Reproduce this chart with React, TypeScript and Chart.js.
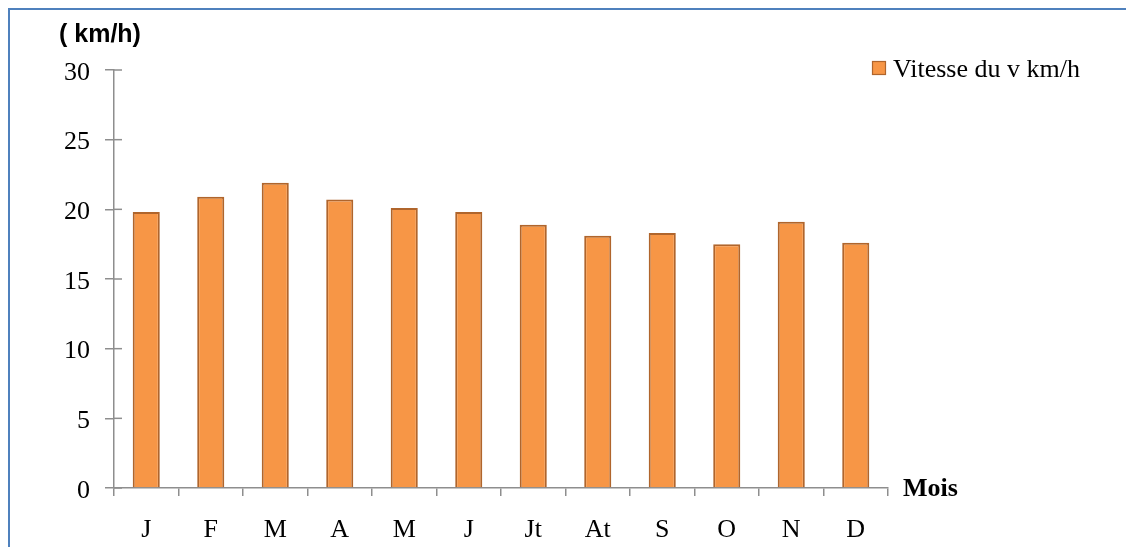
import { useEffect, useRef } from 'react';
import { Chart, registerables } from 'chart.js';

Chart.register(...registerables);

const months = ['J', 'F', 'M', 'A', 'M', 'J', 'Jt', 'At', 'S', 'O', 'N', 'D'];
const windSpeed = [19.8, 20.9, 21.9, 20.7, 20.1, 19.8, 18.9, 18.1, 18.3, 17.5, 19.1, 17.6];
const seriesLabel = 'Vitesse du v km/h';
const yAxisTitle = '( km/h)';
const xAxisTitle = 'Mois';
const yMin = 0;
const yMax = 30;
const yStep = 5;

const SERIF = '"Liberation Serif", "Times New Roman", serif';
const AXIS = '#8E8E8E';
const FILL = '#F79646';
const EDGE = '#B0652C';

const extrasPlugin = {
  id: 'extras',
  afterDraw(chart: any) {
    const { ctx, chartArea } = chart;
    const y = chart.scales.y;
    ctx.save();
    // inner tick marks on the y axis
    ctx.strokeStyle = AXIS;
    ctx.lineWidth = 1.5;
    y.ticks.forEach((t: any) => {
      const py = y.getPixelForValue(t.value);
      ctx.beginPath();
      ctx.moveTo(chartArea.left, py);
      ctx.lineTo(chartArea.left + 8, py);
      ctx.stroke();
    });
    // y axis title
    ctx.fillStyle = '#000';
    ctx.textBaseline = 'alphabetic';
    ctx.textAlign = 'left';
    ctx.font = 'bold 25px "Liberation Sans", Arial, sans-serif';
    ctx.fillText(yAxisTitle, chartArea.left - 55, chartArea.top - 28);
    // x axis title
    ctx.font = 'bold 26px ' + SERIF;
    ctx.fillText(xAxisTitle, chartArea.right + 15, chartArea.bottom + 8);
    // legend
    const bx = chartArea.right - 16;
    const by = chartArea.top - 9;
    ctx.fillStyle = FILL;
    ctx.fillRect(bx, by, 14, 14);
    ctx.strokeStyle = EDGE;
    ctx.lineWidth = 1.2;
    ctx.strokeRect(bx + 0.5, by + 0.5, 13, 13);
    ctx.fillStyle = '#000';
    ctx.font = '26px ' + SERIF;
    ctx.fillText(seriesLabel, bx + 21, by + 16);
    ctx.restore();
  },
};

export default function App() {
  const ref = useRef<HTMLCanvasElement>(null);
  useEffect(() => {
    if (!ref.current) return;
    const chart = new Chart(ref.current, {
      type: 'bar',
      data: {
        labels: months,
        datasets: [
          {
            label: seriesLabel,
            data: windSpeed,
            backgroundColor: FILL,
            borderColor: EDGE,
            borderWidth: 2,
            categoryPercentage: 1,
            barPercentage: 0.42,
          },
        ],
      },
      plugins: [extrasPlugin],
      options: {
        animation: false,
        responsive: false,
        maintainAspectRatio: false,
        layout: { padding: { top: 60, right: 246, left: 0, bottom: 0 } },
        plugins: { legend: { display: false }, tooltip: { enabled: false } },
        scales: {
          x: {
            grid: { offset: true, drawOnChartArea: false, tickLength: 8, color: AXIS, lineWidth: 1.5 },
            border: { color: AXIS, width: 1.5 },
            ticks: { font: { family: SERIF, size: 26 }, color: '#000', padding: 19 },
            afterFit: (s: any) => { s.height = 59; },
          },
          y: {
            min: yMin,
            max: yMax,
            ticks: { stepSize: yStep, font: { family: SERIF, size: 26 }, color: '#000', padding: 15, labelOffset: 3 },
            grid: { drawOnChartArea: false, tickLength: 9, color: AXIS, lineWidth: 1.5 },
            border: { color: AXIS, width: 1.5 },
            afterFit: (s: any) => { s.width = 104; },
          },
        },
      },
    });
    return () => chart.destroy();
  }, []);
  return (
    <div style={{ borderLeft: '2px solid #4F81BD', borderTop: '2px solid #4F81BD', height: 537, width: 1124 }}>
      <canvas ref={ref} width={1124} height={537} style={{ display: 'block', width: 1124, height: 537 }} />
    </div>
  );
}
